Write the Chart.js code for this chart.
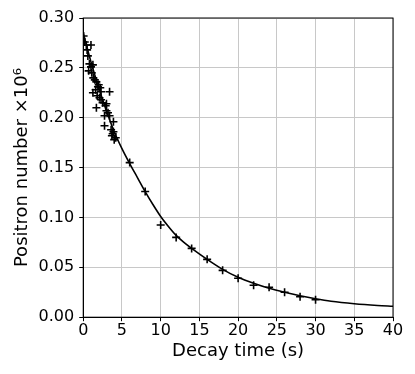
<!DOCTYPE html>
<html>
<head>
<meta charset="utf-8">
<script src="https://cdn.jsdelivr.net/npm/chart.js@4/dist/chart.umd.min.js"></script>
<style>
  html, body { margin: 0; padding: 0; background: #fff; }
  #wrap { width: 415px; height: 374px; }
</style>
</head>
<body>
<div id="wrap"><canvas id="myChart" width="415" height="374"></canvas></div>
<script>
// measured points (decay time in s, positron number x10^6)
var decayTimes = [0.05, 0.2, 0.4, 1.0, 0.5, 0.6, 0.8, 1.0, 1.25, 0.7, 1.1, 1.3, 1.5, 1.7, 1.9, 1.6, 1.25, 2.3, 3.4, 2.1,
    2.0, 2.2, 1.8, 2.5, 1.7, 2.9, 3.0, 2.3, 3.0, 2.75, 3.4, 3.2, 3.9, 2.75, 3.6, 3.7, 3.8, 4.0, 4.2, 3.9,
    6, 8, 10, 12, 14, 16, 18, 20, 22, 24, 26, 28, 30];
var positronCounts = [0.282, 0.276, 0.273, 0.273, 0.268, 0.262, 0.254, 0.251, 0.253, 0.247, 0.245, 0.240, 0.238, 0.236, 0.231, 0.228, 0.225, 0.226, 0.226, 0.220,
    0.233, 0.230, 0.222, 0.215, 0.210, 0.212, 0.214, 0.218, 0.207, 0.202, 0.202, 0.205, 0.196, 0.192, 0.188, 0.182, 0.184, 0.178, 0.180, 0.186,
    0.155, 0.126, 0.0925, 0.080, 0.069, 0.058, 0.047, 0.039, 0.032, 0.030, 0.025, 0.0205, 0.0175];

// fitted curve
var fitTimes = [0, 1, 2, 3, 4, 5, 6, 7, 8, 9, 10, 11, 12, 13, 14, 16, 18, 20, 22, 24, 26, 28, 30, 32, 35, 38, 40];
var fitValues = [0.285, 0.256, 0.230, 0.207, 0.186, 0.169, 0.154, 0.140, 0.126, 0.113, 0.101, 0.091, 0.082, 0.075, 0.069, 0.058, 0.048, 0.040, 0.034, 0.029, 0.025, 0.0215, 0.0185, 0.016, 0.0135, 0.0118, 0.011];

var xTicks = [0, 5, 10, 15, 20, 25, 30, 35, 40];
var yTicks = [0.00, 0.05, 0.10, 0.15, 0.20, 0.25, 0.30];

var FONT = "'DejaVu Sans', sans-serif";

function pairs(xs, ys) {
    var out = [];
    for (var i = 0; i < xs.length; i++) out.push({ x: xs[i], y: ys[i] });
    return out;
}

// matplotlib-style box around the plot area
var frame = {
    id: 'frame',
    afterDraw: function (chart) {
        var a = chart.chartArea, c = chart.ctx;
        c.save();
        c.strokeStyle = '#000';
        c.lineWidth = 1;
        c.strokeRect(a.left, a.top, a.right - a.left, a.bottom - a.top);
        c.restore();
    }
};

document.addEventListener('DOMContentLoaded', function () {
    var ctx = document.getElementById('myChart').getContext('2d');
    new Chart(ctx, {
        type: 'scatter',
        data: {
            datasets: [{
                data: pairs(decayTimes, positronCounts),
                pointStyle: 'cross',
                pointRadius: 4,
                borderColor: '#000',
                backgroundColor: '#000',
                borderWidth: 1.6,
                order: 1
            }, {
                data: pairs(fitTimes, fitValues),
                showLine: true,
                cubicInterpolationMode: 'monotone',
                borderColor: '#000',
                borderWidth: 1.6,
                pointRadius: 0,
                fill: false,
                order: 2
            }]
        },
        options: {
            responsive: false,
            animation: false,
            layout: { padding: { left: 12, right: 22, top: 18, bottom: 12 } },
            plugins: { legend: { display: false }, tooltip: { enabled: false } },
            scales: {
                x: {
                    type: 'linear',
                    min: 0, max: 40,
                    afterBuildTicks: function (axis) { axis.ticks = xTicks.map(function (v) { return { value: v }; }); },
                    ticks: { color: '#000', font: { family: FONT, size: 16 }, padding: 0, maxRotation: 0 },
                    grid: { color: '#c8c8c8', tickColor: '#000', tickLength: 4 },
                    border: { color: '#000' },
                    title: { display: true, text: 'Decay time (s)', color: '#000', font: { family: FONT, size: 18 }, padding: { top: 0, bottom: 0 } }
                },
                y: {
                    type: 'linear',
                    min: 0, max: 0.30,
                    afterBuildTicks: function (axis) { axis.ticks = yTicks.map(function (v) { return { value: v }; }); },
                    ticks: {
                        color: '#000', font: { family: FONT, size: 16 }, padding: 5,
                        callback: function (v) { return Number(v).toFixed(2); }
                    },
                    grid: { color: '#c8c8c8', tickColor: '#000', tickLength: 4 },
                    border: { color: '#000' },
                    title: { display: true, text: 'Positron number \u00d710\u2076', color: '#000', font: { family: FONT, size: 18 }, padding: { top: 0, bottom: 0 } }
                }
            }
        },
        plugins: [frame]
    });
});
</script>
</body>
</html>
